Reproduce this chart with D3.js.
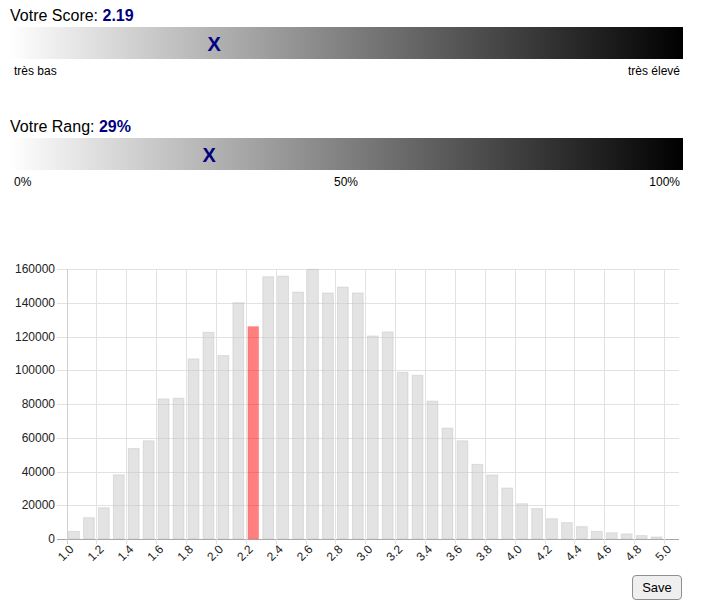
<!DOCTYPE html>
<html>
<head>
<meta charset="utf-8">
<script src="https://cdn.jsdelivr.net/npm/d3@7"></script>
<style>
  body { margin: 0; background: #fff; font-family: "Liberation Sans", Arial, sans-serif; }
  #wrap { position: relative; width: 702px; height: 616px; }
  svg { position: absolute; left: 0; top: 0; }
  #save {
    position: absolute; left: 632px; top: 575px; width: 50px; height: 25px;
    font-family: "Liberation Sans", Arial, sans-serif; font-size: 13px; color: #000;
    background: #efefef; border: 1px solid #8f8f8f; border-radius: 4px; padding: 0;
  }
</style>
</head>
<body>
<div id="wrap">
<svg id="chart" width="702" height="616"></svg>
<button id="save">Save</button>
</div>
<script>
// ---- data ----
const scoreValue = 2.19;
const scoreLabel = "2.19";
const scoreDomain = [1, 5];
const scoreEnds = ["très bas", "très élevé"];
const rankValue = 29;
const rankLabel = "29%";
const rankTicks = ["0%", "50%", "100%"];
const binStarts = [1.0,1.1,1.2,1.3,1.4,1.5,1.6,1.7,1.8,1.9,2.0,2.1,2.2,2.3,2.4,2.5,2.6,2.7,2.8,2.9,
                   3.0,3.1,3.2,3.3,3.4,3.5,3.6,3.7,3.8,3.9,4.0,4.1,4.2,4.3,4.4,4.5,4.6,4.7,4.8,4.9];
const counts = [4500,12600,18500,38000,53600,58200,83000,83400,106700,122500,108700,140000,125900,155400,155800,146300,159800,145800,149300,145800,
                120300,122700,98800,97000,81700,65700,58200,44200,37900,30200,20900,18000,12000,9700,7300,4500,3700,3000,2000,1200];
const highlightBin = 2.2;
const xTickLabels = ["1.0","1.2","1.4","1.6","1.8","2.0","2.2","2.4","2.6","2.8","3.0","3.2","3.4","3.6","3.8","4.0","4.2","4.4","4.6","4.8","5.0"];
const yTickValues = [0,20000,40000,60000,80000,100000,120000,140000,160000];

const svg = d3.select("#chart");
const font = "'Liberation Sans', Arial, sans-serif";

// gradient
const defs = svg.append("defs");
const grad = defs.append("linearGradient").attr("id", "g").attr("x1", "0%").attr("x2", "100%");
grad.append("stop").attr("offset", "0%").attr("stop-color", "#ffffff");
grad.append("stop").attr("offset", "100%").attr("stop-color", "#000000");

const barX = d3.scaleLinear().domain([0, 1]).range([10, 683]);

function gauge(y0, title, valLabel, frac, labels, anchors, positions) {
  const t = svg.append("text").attr("x", 10).attr("y", y0 - 6).attr("font-family", font).attr("font-size", 16).attr("fill", "#000");
  t.append("tspan").text(title);
  t.append("tspan").attr("font-weight", "bold").attr("fill", "#000080").text(valLabel);
  svg.append("rect").attr("x", barX(0)).attr("y", y0).attr("width", barX(1) - barX(0)).attr("height", 32).attr("fill", "url(#g)");
  svg.append("text").attr("x", barX(frac) + 4).attr("y", y0 + 24).attr("text-anchor", "middle")
    .attr("font-family", font).attr("font-size", 20).attr("font-weight", "bold").attr("fill", "#000080").text("X");
  labels.forEach((l, i) => {
    svg.append("text").attr("x", positions[i]).attr("y", y0 + 48).attr("text-anchor", anchors[i])
      .attr("font-family", font).attr("font-size", 12).attr("fill", "#000").text(l);
  });
}
gauge(27, "Votre Score: ", scoreLabel, (scoreValue - scoreDomain[0]) / (scoreDomain[1] - scoreDomain[0]),
      scoreEnds, ["start", "end"], [14, 680]);
gauge(138, "Votre Rang: ", rankLabel, rankValue / 100,
      rankTicks, ["start", "middle", "end"], [14, 346, 680]);

// histogram
const x = d3.scaleLinear().domain([1.0, 5.1]).range([66.5, 679]);
const y = d3.scaleLinear().domain([0, 160000]).range([539, 269]);

const grid = svg.append("g").attr("shape-rendering", "crispEdges");
// horizontal grid
grid.selectAll("line.h").data(yTickValues).join("line")
  .attr("x1", 57).attr("x2", 679)
  .attr("y1", d => Math.round(y(d)) + 0.5).attr("y2", d => Math.round(y(d)) + 0.5)
  .attr("stroke", d => d === 0 ? "#a8a8a8" : "#e2e2e2");
// vertical grid
grid.selectAll("line.v").data(xTickLabels).join("line")
  .attr("x1", d => Math.round(x(+d)) + 0.5).attr("x2", d => Math.round(x(+d)) + 0.5)
  .attr("y1", 269).attr("y2", 544)
  .attr("stroke", (d, i) => i === 0 ? "#cfcfcf" : "#e2e2e2");

// bars
const slot = x(1.1) - x(1.0);
const bw = slot * 0.72;
svg.append("g").selectAll("rect").data(binStarts).join("rect")
  .attr("x", d => x(d) + (slot - bw) / 2)
  .attr("y", (d, i) => y(counts[i]))
  .attr("width", bw)
  .attr("height", (d, i) => y(0) - y(counts[i]))
  .attr("fill", d => Math.abs(d - highlightBin) < 1e-9 ? "rgba(255,0,0,0.5)" : "rgba(200,200,200,0.5)")
  .attr("stroke", d => Math.abs(d - highlightBin) < 1e-9 ? "rgba(255,0,0,0.15)" : "rgba(180,180,180,0.35)")
  .attr("stroke-width", 1);

// y labels
svg.append("g").selectAll("text").data(yTickValues).join("text")
  .attr("x", 55).attr("y", d => y(d)).attr("dy", "0.35em").attr("text-anchor", "end")
  .attr("font-family", font).attr("font-size", 12).attr("fill", "#222").text(d => d);

// x labels rotated
svg.append("g").selectAll("text").data(xTickLabels).join("text")
  .attr("transform", d => `translate(${x(+d) + 5},${547}) rotate(-45)`)
  .attr("text-anchor", "end").attr("dy", "0.35em")
  .attr("font-family", font).attr("font-size", 12).attr("fill", "#222").text(d => d);
</script>
</body>
</html>
